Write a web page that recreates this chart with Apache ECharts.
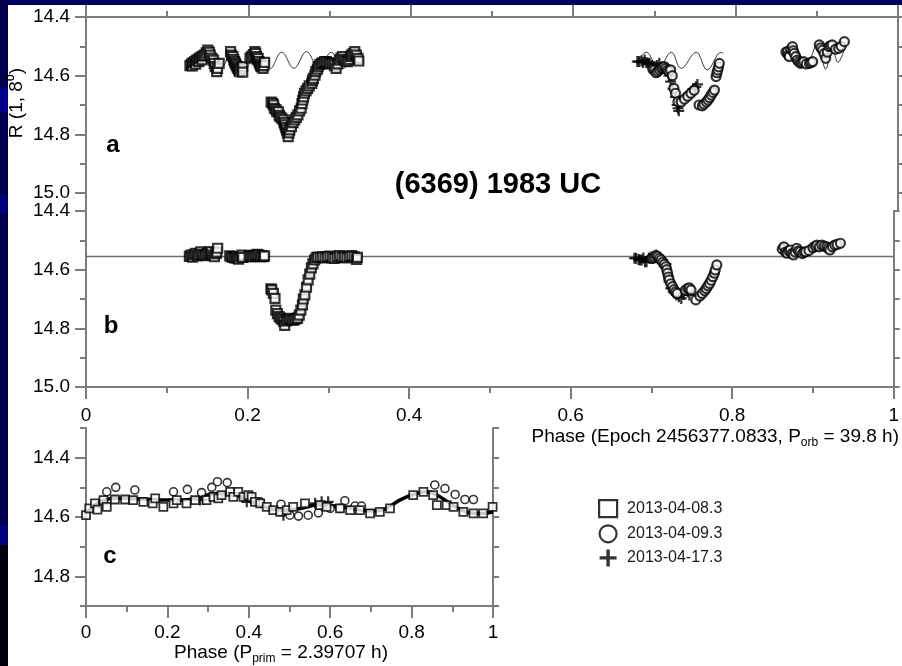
<!DOCTYPE html>
<html><head><meta charset="utf-8">
<script src="https://cdn.jsdelivr.net/npm/echarts@6/dist/echarts.min.js"></script>
<style>html,body{margin:0;padding:0;background:#fff}#c{width:902px;height:666px}</style>
</head><body><div id="c"></div>
<script>
// ---------------- data ----------------
const seriesNames = ['2013-04-08.3', '2013-04-09.3', '2013-04-17.3'];
const titleText = '(6369) 1983 UC';
const orbPhaseTicks = ['0', '0.2', '0.4', '0.6', '0.8', '1'];
const magTicksAB = ['14.4', '14.6', '14.8', '15.0'];
const magTicksC = [14.4, 14.6, 14.8];
const refLevelB = 14.555;

// panel a: observed magnitudes vs orbital phase
const squaresA = [
 [0.128,14.566],[0.130,14.56],[0.131,14.567],[0.132,14.556],[0.134,14.552],[0.135,14.561],[0.136,14.548],[0.138,14.544],[0.139,14.552],[0.140,14.54],[0.142,14.537],[0.143,14.546],[0.144,14.533],[0.146,14.530],[0.148,14.522],[0.150,14.513],[0.152,14.52],[0.153,14.530],[0.155,14.54],[0.157,14.547],[0.158,14.558],[0.159,14.569],[0.161,14.586],[0.162,14.575],[0.164,14.558],
 [0.178,14.518],[0.179,14.53],[0.181,14.535],[0.182,14.545],[0.183,14.552],[0.184,14.558],[0.185,14.564],[0.186,14.57],[0.187,14.575],[0.188,14.58],[0.189,14.586],[0.191,14.578],[0.193,14.569],[0.193,14.588],
 [0.202,14.54],[0.204,14.535],[0.206,14.528],[0.208,14.518],[0.209,14.524],[0.210,14.535],[0.211,14.545],[0.212,14.541],[0.213,14.552],[0.214,14.56],[0.215,14.566],[0.216,14.57],[0.218,14.575],[0.219,14.566],[0.220,14.555],
 [0.228,14.69],[0.230,14.694],[0.231,14.70],[0.232,14.711],[0.234,14.716],[0.235,14.723],[0.237,14.723],[0.238,14.735],[0.239,14.74],[0.241,14.745],[0.243,14.751],[0.244,14.76],[0.245,14.768],[0.246,14.777],[0.247,14.785],[0.248,14.795],[0.249,14.808],[0.250,14.795],[0.251,14.785],[0.253,14.774],[0.255,14.76],[0.257,14.751],[0.259,14.742],[0.261,14.734],[0.263,14.72],[0.265,14.711],[0.266,14.695],[0.267,14.683],[0.268,14.672],[0.269,14.66],[0.271,14.652],[0.273,14.643],[0.275,14.635],[0.278,14.626],[0.279,14.617],[0.280,14.609],[0.282,14.598],[0.283,14.586],[0.285,14.578],[0.286,14.569],
 [0.288,14.562],[0.290,14.558],[0.292,14.556],[0.294,14.552],[0.296,14.552],[0.298,14.556],[0.300,14.56],[0.302,14.558],[0.304,14.558],[0.306,14.566],[0.308,14.575],[0.310,14.56],[0.312,14.547],[0.314,14.54],[0.316,14.535],[0.318,14.545],[0.320,14.55],[0.322,14.552],[0.324,14.545],[0.326,14.535],[0.327,14.53],[0.329,14.524],[0.331,14.518],[0.333,14.53],[0.335,14.541],[0.336,14.55]
];
const circlesA = [
 [0.698,14.578],[0.700,14.581],[0.702,14.59],[0.704,14.586],[0.706,14.58],[0.708,14.575],[0.710,14.572],[0.712,14.569],[0.714,14.575],[0.716,14.581],[0.718,14.585],[0.720,14.58],[0.722,14.6],[0.724,14.643],[0.726,14.66],[0.729,14.689],[0.733,14.69],[0.737,14.68],[0.741,14.67],[0.745,14.66],[0.749,14.65],[0.755,14.700],[0.759,14.703],[0.761,14.697],[0.764,14.69],[0.766,14.683],[0.768,14.675],[0.770,14.666],[0.772,14.657],[0.774,14.649],[0.776,14.603],[0.777,14.59],[0.778,14.581],[0.779,14.57],[0.780,14.558],
 [0.862,14.52],[0.864,14.518],[0.865,14.53],[0.866,14.535],[0.868,14.51],[0.870,14.501],[0.871,14.515],[0.872,14.524],[0.874,14.535],[0.876,14.547],[0.878,14.553],[0.880,14.558],[0.882,14.555],[0.884,14.552],[0.887,14.56],[0.891,14.558],[0.893,14.555],[0.895,14.552],[0.903,14.495],[0.905,14.505],[0.907,14.513],[0.909,14.525],[0.911,14.541],[0.913,14.52],[0.915,14.501],[0.917,14.498],[0.919,14.495],[0.923,14.51],[0.927,14.507],[0.930,14.5],[0.934,14.484]
];
const plusesA = [
 [0.679,14.552],[0.681,14.552],[0.684,14.55],[0.686,14.555],[0.688,14.547],[0.690,14.555],[0.692,14.558],[0.694,14.558],[0.697,14.565],[0.700,14.569],[0.703,14.565],[0.706,14.558],[0.709,14.57],[0.713,14.575],[0.718,14.6],[0.720,14.62],[0.723,14.645],[0.726,14.672],[0.728,14.70],[0.729,14.711],[0.730,14.72],[0.733,14.69],[0.736,14.68],[0.739,14.672],[0.742,14.662],[0.745,14.655],[0.748,14.645],[0.751,14.638],[0.753,14.63]
];
// panel a: primary-rotation model, three stretches
const modelA1 = [[0.128,14.55],[0.134,14.575],[0.1495,14.52],[0.165,14.578],[0.180,14.522],[0.195,14.58],[0.2105,14.52],[0.226,14.578],[0.241,14.52],[0.256,14.575],[0.2715,14.518],[0.287,14.578],[0.302,14.52],[0.317,14.575],[0.3325,14.522],[0.34,14.55]];
const modelA2 = [[0.678,14.56],[0.690,14.52],[0.705,14.575],[0.7208,14.52],[0.733,14.575],[0.7515,14.52],[0.765,14.58],[0.7823,14.52],[0.785,14.525]];
const modelA3 = [[0.862,14.53],[0.872,14.50],[0.887,14.56],[0.901,14.49],[0.911,14.578],[0.919,14.501],[0.926,14.555],[0.935,14.5]];

// panel b: after subtraction of the primary rotation
const squaresB = [
 [0.128,14.555],[0.130,14.55],[0.132,14.557],[0.134,14.548],[0.136,14.544],[0.138,14.552],[0.140,14.546],[0.142,14.539],[0.144,14.548],[0.146,14.552],[0.148,14.55],[0.150,14.545],[0.152,14.54],[0.154,14.546],[0.155,14.539],[0.157,14.55],[0.159,14.556],[0.161,14.545],[0.162,14.54],[0.163,14.527],
 [0.178,14.553],[0.180,14.556],[0.182,14.558],[0.184,14.56],[0.186,14.556],[0.187,14.561],[0.189,14.564],[0.191,14.556],[0.193,14.55],[0.194,14.558],
 [0.202,14.552],[0.204,14.556],[0.206,14.556],[0.208,14.55],[0.210,14.553],[0.212,14.548],[0.214,14.55],[0.216,14.556],[0.218,14.552],[0.220,14.556],[0.221,14.553],
 [0.229,14.665],[0.230,14.669],[0.232,14.681],[0.234,14.698],[0.235,14.738],[0.237,14.75],[0.239,14.76],[0.241,14.765],[0.243,14.77],[0.245,14.777],[0.246,14.79],[0.248,14.775],[0.250,14.77],[0.252,14.766],[0.254,14.77],[0.256,14.772],[0.258,14.77],[0.260,14.768],[0.262,14.765],[0.264,14.755],[0.266,14.738],[0.268,14.72],[0.269,14.70],[0.271,14.686],[0.273,14.66],[0.275,14.635],[0.277,14.615],[0.279,14.594],[0.281,14.58],[0.283,14.567],[0.285,14.56],
 [0.287,14.557],[0.290,14.558],[0.293,14.556],[0.296,14.56],[0.299,14.556],[0.302,14.554],[0.305,14.56],[0.308,14.562],[0.311,14.556],[0.314,14.552],[0.317,14.558],[0.320,14.556],[0.323,14.56],[0.326,14.555],[0.329,14.552],[0.332,14.556],[0.335,14.565],[0.336,14.558]
];
const circlesB = [
 [0.700,14.562],[0.702,14.561],[0.704,14.558],[0.706,14.552],[0.708,14.556],[0.710,14.562],[0.712,14.567],[0.714,14.575],[0.716,14.582],[0.718,14.59],[0.719,14.60],[0.720,14.612],[0.721,14.625],[0.722,14.635],[0.724,14.648],[0.726,14.658],[0.728,14.668],[0.730,14.676],[0.732,14.681],[0.742,14.67],[0.745,14.664],[0.747,14.662],[0.749,14.669],[0.755,14.703],[0.760,14.69],[0.763,14.681],[0.766,14.672],[0.768,14.664],[0.770,14.655],[0.772,14.647],[0.774,14.636],[0.776,14.624],[0.778,14.612],[0.779,14.601],[0.781,14.584],
 [0.862,14.53],[0.864,14.522],[0.866,14.54],[0.868,14.544],[0.870,14.536],[0.872,14.533],[0.874,14.545],[0.876,14.55],[0.878,14.54],[0.880,14.527],[0.882,14.536],[0.884,14.539],[0.887,14.545],[0.889,14.54],[0.891,14.539],[0.895,14.535],[0.900,14.525],[0.903,14.52],[0.905,14.516],[0.908,14.522],[0.911,14.516],[0.914,14.52],[0.917,14.522],[0.919,14.528],[0.921,14.533],[0.924,14.522],[0.927,14.516],[0.930,14.514],[0.934,14.51]
];
const plusesB = [
 [0.679,14.561],[0.681,14.561],[0.684,14.565],[0.686,14.567],[0.688,14.567],[0.690,14.56],[0.692,14.573],[0.694,14.573],[0.697,14.56],[0.700,14.556],[0.703,14.553],[0.706,14.55],[0.710,14.558],[0.714,14.567],[0.718,14.58],[0.722,14.64],[0.724,14.664],[0.727,14.675],[0.729,14.68],[0.731,14.686],[0.734,14.692],[0.737,14.698],[0.740,14.685],[0.743,14.669],[0.745,14.675],[0.747,14.686]
];

// panel c: primary rotation lightcurve vs rotational phase
const squaresC = [
 [0.000,14.594],[0.008,14.571],[0.022,14.554],[0.028,14.575],[0.043,14.543],[0.051,14.566],[0.071,14.541],[0.096,14.541],[0.116,14.543],[0.141,14.549],[0.164,14.554],[0.170,14.537],[0.190,14.566],[0.215,14.554],[0.223,14.543],[0.247,14.554],[0.268,14.543],[0.296,14.543],[0.313,14.532],[0.325,14.537],[0.333,14.526],[0.354,14.515],[0.362,14.532],[0.374,14.515],[0.387,14.532],[0.399,14.526],[0.407,14.532],[0.415,14.549],[0.428,14.554],[0.444,14.566],[0.460,14.577],[0.477,14.583],[0.493,14.577],[0.509,14.566],[0.538,14.554],[0.575,14.560],[0.591,14.566],[0.624,14.571],[0.649,14.577],[0.673,14.577],[0.698,14.588],[0.722,14.583],[0.747,14.571],[0.804,14.526],[0.829,14.515],[0.853,14.526],[0.862,14.560],[0.886,14.560],[0.903,14.566],[0.927,14.583],[0.952,14.588],[0.976,14.588],[0.999,14.566]
];
const circlesC = [
 [0.051,14.515],[0.073,14.500],[0.120,14.509],[0.215,14.515],[0.249,14.507],[0.284,14.518],[0.309,14.500],[0.323,14.481],[0.347,14.484],[0.428,14.549],[0.479,14.557],[0.501,14.594],[0.522,14.597],[0.546,14.594],[0.571,14.586],[0.600,14.571],[0.624,14.571],[0.636,14.545],[0.661,14.563],[0.677,14.563],[0.857,14.492],[0.882,14.504],[0.907,14.524],[0.931,14.541],[0.952,14.541]
];
const plusesC = [[0.280,14.543],[0.288,14.541],[0.395,14.549],[0.485,14.594],[0.563,14.554],[0.579,14.549],[0.595,14.549]];
const fitC = [[0,14.588],[0.034,14.549],[0.075,14.537],[0.133,14.539],[0.198,14.543],[0.239,14.543],[0.280,14.532],[0.321,14.521],[0.354,14.521],[0.395,14.543],[0.436,14.566],[0.485,14.577],[0.526,14.571],[0.575,14.558],[0.608,14.562],[0.657,14.571],[0.698,14.580],[0.731,14.575],[0.771,14.543],[0.804,14.524],[0.837,14.515],[0.862,14.526],[0.903,14.562],[0.935,14.583],[0.968,14.588],[1.0,14.583]];

// ---------------- chart ----------------
const FONT = 'Liberation Sans, Arial, sans-serif';
const AX = '#7c7c7c';
const plusPath = 'path://M4,0H6V4H10V6H6V10H4V6H0V4H4Z';
const chart = echarts.init(document.getElementById('c'), null, {renderer: 'canvas'});

function xAxis(gridIndex, position, showLabels, margin) {
  return {
    type: 'value', gridIndex, position, min: 0, max: 1, interval: 0.2,
    axisLine: {show: true, lineStyle: {color: AX, width: 2}},
    axisTick: {show: true, inside: false, length: 12, lineStyle: {color: AX, width: 2}},
    minorTick: {show: true, splitNumber: 2, length: 6, lineStyle: {color: AX, width: 2}},
    splitLine: {show: false},
    axisLabel: {show: showLabels, margin, color: '#000', fontSize: 19, fontFamily: FONT,
      formatter: v => orbPhaseTicks[Math.round(v / 0.2)]}
  };
}
function yLeftAB(gridIndex) {
  return {
    type: 'value', gridIndex, position: 'left', inverse: true, min: 14.4, max: 15.0, interval: 0.2,
    axisLine: {show: true, lineStyle: {color: AX, width: 2}},
    axisTick: {show: true, length: 11, lineStyle: {color: AX, width: 2}},
    minorTick: {show: true, splitNumber: 2, length: 6, lineStyle: {color: AX, width: 2}},
    splitLine: {show: false},
    axisLabel: {margin: 16, color: '#000', fontSize: 19, fontFamily: FONT,
      formatter: v => magTicksAB[Math.round((v - 14.4) / 0.2)]}
  };
}
function yRight(gridIndex, min, max) {
  return {
    type: 'value', gridIndex, position: 'right', inverse: true, min, max, interval: 0.1,
    axisLine: {show: true, lineStyle: {color: AX, width: 2}},
    axisTick: {show: true, length: 6, lineStyle: {color: AX, width: 2}},
    splitLine: {show: false}, axisLabel: {show: false}
  };
}

const sq = (size, bw) => ({symbol: 'rect', symbolSize: size, itemStyle: {color: '#fff', borderColor: '#000', borderWidth: bw}});
const ci = (size, bw) => ({symbol: 'circle', symbolSize: size, itemStyle: {color: '#fff', borderColor: '#000', borderWidth: bw}});
const pl = (size) => ({symbol: plusPath, symbolSize: size, itemStyle: {color: '#000', borderWidth: 0}});

function scatter(name, data, xi, yi, style, z) {
  return Object.assign({type: 'scatter', name, data, xAxisIndex: xi, yAxisIndex: yi, z, silent: true, animation: false}, style);
}
function line(data, xi, yi, color, width, z) {
  return {type: 'line', data, xAxisIndex: xi, yAxisIndex: yi, smooth: 0.4, symbol: 'none', z, silent: true,
    animation: false, lineStyle: {color, width}};
}

const subRich = {
  n: {fontSize: 19, fontFamily: FONT, lineHeight: 24, fill: '#000'},
  s: {fontSize: 12, fontFamily: FONT, lineHeight: 12, verticalAlign: 'bottom', fill: '#000'}
};

const option = {
  backgroundColor: '#ffffff',
  animation: false,
  grid: [
    {left: 86, top: 17, width: 812, height: 176},
    {left: 86, top: 211, width: 812, height: 176},
    {left: 86, top: 428, width: 407, height: 178}
  ],
  xAxis: [
    xAxis(0, 'top', false, 8),
    xAxis(1, 'bottom', true, 19),
    xAxis(2, 'bottom', true, 17)
  ],
  yAxis: [
    yLeftAB(0), yRight(0, 14.4, 15.0),
    yLeftAB(1), yRight(1, 14.4, 15.0),
    {
      type: 'value', gridIndex: 2, position: 'left', inverse: true, min: 14.3, max: 14.9, interval: 0.1,
      axisLine: {show: true, lineStyle: {color: AX, width: 2}},
      axisTick: {show: true, length: 11, customValues: magTicksC, lineStyle: {color: AX, width: 2}},
      splitLine: {show: false},
      axisLabel: {margin: 16, color: '#000', fontSize: 19, fontFamily: FONT, customValues: magTicksC,
        formatter: v => Number(v).toFixed(1)}
    },
    {
      type: 'value', gridIndex: 2, position: 'left', inverse: true, min: 14.3, max: 14.9, interval: 0.1,
      axisLine: {show: false},
      axisTick: {show: true, length: 6, lineStyle: {color: AX, width: 2}},
      splitLine: {show: false}, axisLabel: {show: false}
    },
    yRight(2, 14.3, 14.9)
  ],
  legend: {
    orient: 'vertical', left: 598, top: 499, padding: 0, itemWidth: 18, itemHeight: 17, itemGap: 6,
    selectedMode: false,
    textStyle: {fontSize: 16, color: '#1a1a1a', fontFamily: FONT, padding: [0, 0, 0, 5]},
    data: [
      {name: seriesNames[0], icon: 'rect', itemStyle: {color: '#fff', borderColor: '#000', borderWidth: 2.2}},
      {name: seriesNames[1], icon: 'circle', itemStyle: {color: '#fff', borderColor: '#000', borderWidth: 2.2}},
      {name: seriesNames[2], icon: plusPath, itemStyle: {color: '#000', borderWidth: 0}}
    ]
  },
  series: [
    line(modelA1, 0, 0, '#3a3a3a', 1, 1),
    line(modelA2, 0, 0, '#3a3a3a', 1, 1),
    line(modelA3, 0, 0, '#3a3a3a', 1, 1),
    scatter(seriesNames[2], plusesA, 0, 0, pl(11), 3),
    scatter(seriesNames[1], circlesA, 0, 0, ci(9, 2.2), 4),
    scatter(seriesNames[0], squaresA, 0, 0, sq(9, 2.2), 5),

    {type: 'line', data: [[0, refLevelB], [1, refLevelB]], xAxisIndex: 1, yAxisIndex: 2, symbol: 'none', z: 1,
      silent: true, animation: false, lineStyle: {color: '#6e6e6e', width: 1.5}},
    scatter(seriesNames[2], plusesB, 1, 2, pl(11), 3),
    scatter(seriesNames[1], circlesB, 1, 2, ci(9, 2.2), 4),
    scatter(seriesNames[0], squaresB, 1, 2, sq(9, 2.2), 5),

    line(fitC, 2, 4, '#000', 3.5, 2),
    scatter(seriesNames[2], plusesC, 2, 4, pl(11), 3),
    scatter(seriesNames[1], circlesC, 2, 4, ci(8, 1.6), 4),
    scatter(seriesNames[0], squaresC, 2, 4, sq(8, 1.8), 5)
  ],
  graphic: [
    // dark blue slide border
    {type: 'rect', shape: {x: 0, y: 0, width: 902, height: 5}, style: {fill: '#000060'}, silent: true},
    {type: 'rect', shape: {x: 0, y: 0, width: 8, height: 545}, style: {fill: '#00004c'}, silent: true},
    {type: 'rect', shape: {x: 0, y: 88, width: 8, height: 24}, style: {fill: '#00008a'}, silent: true},
    {type: 'rect', shape: {x: 0, y: 195, width: 8, height: 18}, style: {fill: '#000080'}, silent: true},
    {type: 'rect', shape: {x: 0, y: 525, width: 8, height: 20}, style: {fill: '#000080'}, silent: true},
    {type: 'rect', shape: {x: 0, y: 545, width: 8, height: 121}, style: {fill: '#00000e'}, silent: true},
    // axis lines joining panels a and b
    {type: 'line', shape: {x1: 86, y1: 192, x2: 86, y2: 212}, style: {stroke: AX, lineWidth: 2}, silent: true},
    {type: 'line', shape: {x1: 898, y1: 192, x2: 898, y2: 212}, style: {stroke: AX, lineWidth: 2}, silent: true},
    // texts
    {type: 'text', x: 498, y: 185, silent: true,
      style: {text: titleText, fontSize: 29, fontWeight: 'bold', fontFamily: FONT, fill: '#000', align: 'center', verticalAlign: 'middle'}},
    {type: 'text', x: 113, y: 145, silent: true,
      style: {text: 'a', fontSize: 24, fontWeight: 'bold', fontFamily: FONT, fill: '#000', align: 'center', verticalAlign: 'middle'}},
    {type: 'text', x: 111, y: 326, silent: true,
      style: {text: 'b', fontSize: 24, fontWeight: 'bold', fontFamily: FONT, fill: '#000', align: 'center', verticalAlign: 'middle'}},
    {type: 'text', x: 110, y: 556, silent: true,
      style: {text: 'c', fontSize: 24, fontWeight: 'bold', fontFamily: FONT, fill: '#000', align: 'center', verticalAlign: 'middle'}},
    {type: 'text', x: 17, y: 103, rotation: Math.PI / 2, silent: true,
      style: {text: 'R (1, 8⁰)', fontSize: 19, fontFamily: FONT, fill: '#000', align: 'center', verticalAlign: 'middle'}},
    {type: 'text', x: 899, y: 437, silent: true,
      style: {text: '{n|Phase (Epoch 2456377.0833, P}{s|orb}{n| = 39.8 h)}', rich: subRich, align: 'right', verticalAlign: 'middle'}},
    {type: 'text', x: 281, y: 653, silent: true,
      style: {text: '{n|Phase (P}{s|prim}{n| = 2.39707 h)}', rich: subRich, align: 'center', verticalAlign: 'middle'}}
  ]
};
chart.setOption(option);
</script>
</body></html>
